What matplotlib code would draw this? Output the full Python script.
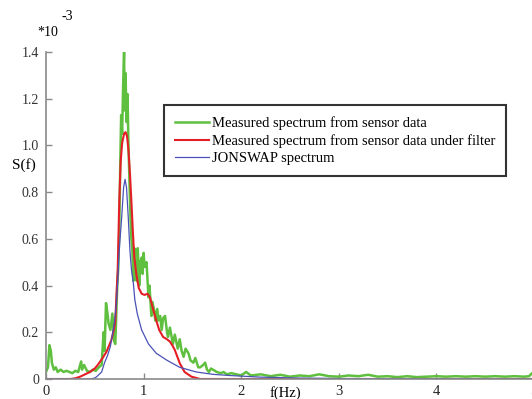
import matplotlib
matplotlib.use("Agg")
import matplotlib.pyplot as plt

# spectra, S(f) in units of 1e-3
green_f = [0.00, 0.02, 0.035, 0.05, 0.06, 0.08, 0.10, 0.12, 0.15, 0.18,
           0.21, 0.24, 0.27, 0.30, 0.33, 0.36, 0.37, 0.39, 0.42, 0.45,
           0.48, 0.51, 0.54, 0.57, 0.59, 0.60, 0.615, 0.63, 0.64, 0.66,
           0.68, 0.70, 0.71, 0.72, 0.73, 0.74, 0.75, 0.76, 0.77, 0.78,
           0.79, 0.80, 0.805, 0.815, 0.825, 0.835, 0.845, 0.855, 0.865, 0.875,
           0.885, 0.895, 0.905, 0.915, 0.93, 0.94, 0.955, 0.965, 0.98, 0.99,
           1.00, 1.01, 1.03, 1.05, 1.06, 1.08, 1.09, 1.11, 1.12, 1.14,
           1.15, 1.17, 1.185, 1.20, 1.22, 1.24, 1.25, 1.27, 1.30, 1.32,
           1.35, 1.37, 1.39, 1.41, 1.43, 1.46, 1.48, 1.51, 1.53, 1.56,
           1.58, 1.61, 1.63, 1.65, 1.67, 1.69, 1.71, 1.75, 1.79, 1.82,
           1.85, 1.90, 1.95, 2.00, 2.05, 2.10, 2.20, 2.30, 2.40, 2.50,
           2.60, 2.70, 2.80, 2.90, 3.00, 3.10, 3.20, 3.30, 3.40, 3.50,
           3.60, 3.70, 3.80, 3.90, 4.00, 4.10, 4.20, 4.30, 4.40, 4.50,
           4.60, 4.70, 4.80, 4.90, 4.95, 4.98, 5.00]
green_s = [0.03, 0.05, 0.145, 0.12, 0.07, 0.04, 0.05, 0.03, 0.04, 0.03,
           0.035, 0.03, 0.025, 0.035, 0.03, 0.075, 0.04, 0.06, 0.035, 0.03,
           0.04, 0.035, 0.05, 0.06, 0.20, 0.12, 0.325, 0.28, 0.24, 0.21,
           0.28, 0.16, 0.15, 0.27, 0.40, 0.47, 0.62, 0.90, 1.13, 1.05,
           1.25, 1.40, 1.15, 1.31, 1.10, 1.22, 1.00, 0.85, 0.70, 0.60,
           0.55, 0.42, 0.56, 0.45, 0.42, 0.56, 0.40, 0.50, 0.52, 0.45,
           0.54, 0.48, 0.50, 0.35, 0.40, 0.27, 0.33, 0.29, 0.25, 0.30,
           0.25, 0.27, 0.21, 0.26, 0.27, 0.20, 0.18, 0.22, 0.15, 0.19,
           0.13, 0.17, 0.12, 0.095, 0.13, 0.11, 0.08, 0.07, 0.09, 0.05,
           0.05, 0.06, 0.07, 0.04, 0.03, 0.045, 0.04, 0.03, 0.025, 0.03,
           0.02, 0.025, 0.02, 0.015, 0.03, 0.015, 0.02, 0.012, 0.018, 0.01,
           0.015, 0.012, 0.02, 0.012, 0.01, 0.015, 0.012, 0.018, 0.01, 0.012,
           0.008, 0.012, 0.008, 0.01, 0.012, 0.01, 0.012, 0.01, 0.012, 0.01,
           0.012, 0.01, 0.012, 0.01, 0.012, 0.025, 0.015]

red_f = [0.00, 0.25, 0.30, 0.35, 0.40, 0.45, 0.50, 0.53, 0.58, 0.62,
         0.67, 0.70, 0.71, 0.72, 0.735, 0.75, 0.765, 0.78, 0.80, 0.815,
         0.83, 0.845, 0.86, 0.875, 0.89, 0.905, 0.925, 0.95, 0.98, 1.01,
         1.04, 1.065, 1.10, 1.13, 1.16, 1.20, 1.24, 1.27, 1.30, 1.32,
         1.37, 1.42, 1.49, 1.58, 5.00]
red_s = [0.0, 0.0, 0.003, 0.01, 0.02, 0.03, 0.045, 0.06, 0.09, 0.117,
         0.167, 0.22, 0.25, 0.34, 0.47, 0.75, 0.93, 1.01, 1.05, 1.057,
         1.04, 0.98, 0.88, 0.76, 0.63, 0.52, 0.45, 0.39, 0.365, 0.36,
         0.365, 0.35, 0.295, 0.25, 0.21, 0.18, 0.17, 0.16, 0.14, 0.124,
         0.068, 0.03, 0.01, 0.0, 0.0]

blue_f = [0.00, 0.45, 0.50, 0.52, 0.57, 0.60, 0.63, 0.66, 0.70, 0.72,
          0.735, 0.75, 0.775, 0.795, 0.81, 0.825, 0.843, 0.86, 0.875, 0.895,
          0.91, 0.935, 0.98, 1.05, 1.13, 1.24, 1.37, 1.54, 1.71, 1.88,
          2.20, 2.60, 3.00, 4.00, 5.00]
blue_s = [0.0, 0.0, 0.004, 0.01, 0.03, 0.07, 0.10, 0.14, 0.24, 0.32,
          0.42, 0.55, 0.69, 0.82, 0.855, 0.82, 0.69, 0.55, 0.47, 0.41,
          0.34, 0.28, 0.21, 0.15, 0.11, 0.08, 0.05, 0.03, 0.02, 0.015,
          0.008, 0.004, 0.002, 0.001, 0.0]

labels = ["Measured spectrum from sensor data",
          "Measured spectrum from sensor data under filter",
          "JONSWAP spectrum"]
yticks = [0, 0.2, 0.4, 0.6, 0.8, 1.0, 1.2, 1.4]
ytick_labels = ["0", "0.2", "0.4", "0.6", "0.8", "1.0", "1.2", "1.4"]
xticks = [0, 1, 2, 3, 4, 5]

serif = "Liberation Serif"

fig = plt.figure(figsize=(5.32, 3.99), dpi=100)
ax = fig.add_axes([46 / 532, 20 / 399, 488 / 532, 327 / 399])

ax.plot(green_f, green_s, color="#5fbf3f", lw=1.8, label=labels[0])
ax.plot(red_f, red_s, color="#e41e26", lw=1.5, label=labels[1])
ax.plot(blue_f, blue_s, color="#4a52b5", lw=0.9, label=labels[2])

ax.set_xlim(0, 5)
ax.set_ylim(0, 1.4)
ax.set_xticks(xticks)
ax.set_yticks(yticks)
ax.set_yticklabels(ytick_labels)
for s in ["top", "right"]:
    ax.spines[s].set_visible(False)
for s in ["left", "bottom"]:
    ax.spines[s].set_color("#8a8a8a")
    ax.spines[s].set_linewidth(1.2)
ax.tick_params(direction="in", length=4, color="#8a8a8a", width=1)
ax.tick_params(axis="y", pad=5, labelsize=10, labelcolor="#333333")
ax.tick_params(axis="x", pad=4, labelsize=10.5, labelcolor="#222222")
for t in ax.get_xticklabels() + ax.get_yticklabels():
    t.set_fontfamily(serif)

ax.set_xlabel("f(Hz)", fontsize=10.5, family=serif)
ax.xaxis.set_label_coords(0.49, -0.042)
ax.xaxis.label.set_va("center")
ax.set_ylabel("S(f)", fontsize=11, family=serif, rotation=0)
ax.yaxis.set_label_coords(-0.045, 0.654)
ax.yaxis.label.set_va("center")

fig.text(37 / 532, 1 - 33 / 399, "*10", fontsize=10, family=serif,
         va="center", ha="left")
fig.text(61 / 532, 1 - 16 / 399, "-3", fontsize=10, family=serif,
         va="center", ha="left")

leg = ax.legend(loc="upper left", bbox_to_anchor=(164 / 532, 1 - 105 / 399),
                bbox_transform=fig.transFigure, frameon=True, fancybox=False,
                prop={"family": serif, "size": 10.5}, handlelength=2.35,
                handletextpad=0.2, labelspacing=0.3, borderpad=0.75,
                borderaxespad=0)
leg.get_frame().set_edgecolor("black")
leg.get_frame().set_linewidth(1.5)

fig.savefig("out.png", dpi=100)
